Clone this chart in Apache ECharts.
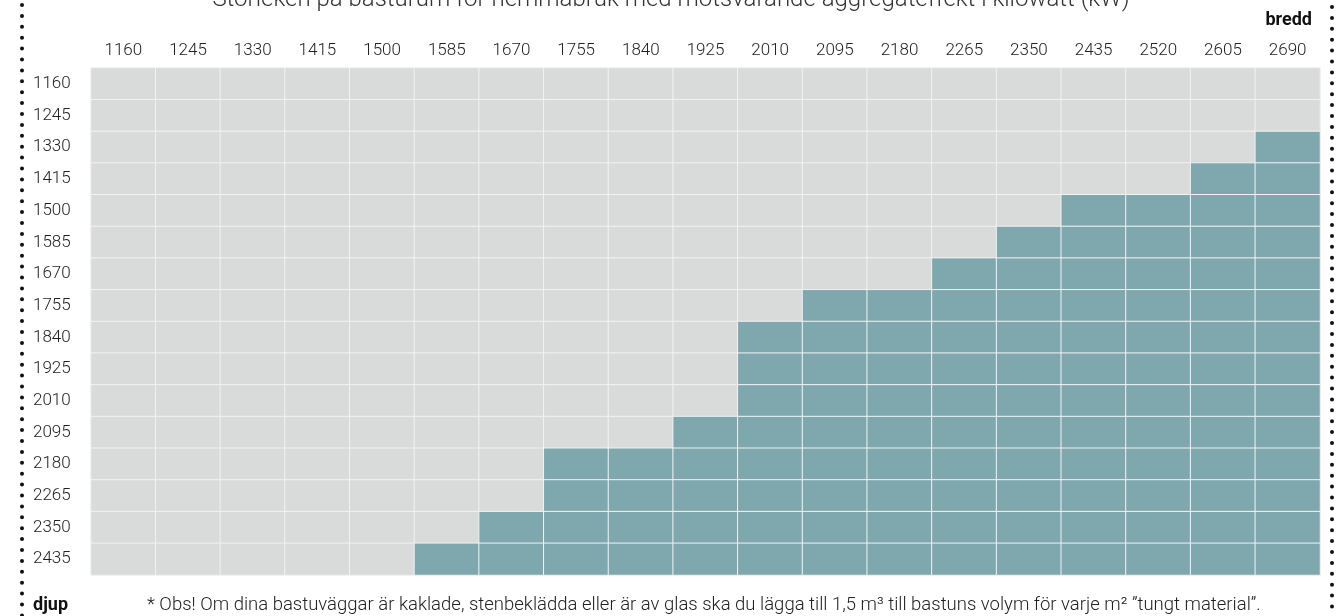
<!DOCTYPE html>
<html>
<head>
<meta charset="utf-8">
<script src="https://cdn.jsdelivr.net/npm/echarts@6/dist/echarts.min.js"></script>
<style>
  html, body { margin: 0; padding: 0; background: #fff; }
  #chart { width: 1342px; height: 616px; }
</style>
</head>
<body>
<div id="chart"></div>
<script>
// bredd (columns) and djup (rows), in mm
const bredd = ['1160', '1245', '1330', '1415', '1500', '1585', '1670', '1755', '1840', '1925',
  '2010', '2095', '2180', '2265', '2350', '2435', '2520', '2605', '2690']
const djup = ['1160', '1245', '1330', '1415', '1500', '1585', '1670', '1755', '1840', '1925',
  '2010', '2095', '2180', '2265', '2350', '2435']
// first bredd that is coloured on each djup row (null = none on that row)
const tealFrom = [null, null, 2690, 2605, 2435, 2350, 2265, 2095, 2010, 2010,
  2010, 1925, 1755, 1755, 1670, 1585]

const cells = []
djup.forEach(function(d, i) {
  bredd.forEach(function(b, j) {
    const on = tealFrom[i] !== null && Number(b) >= tealFrom[i] ? 1 : 0
    cells.push([j, i, on])
  })
})

const font = 'Roboto'
const myChart = echarts.init(document.getElementById('chart'))
const dots = { stroke: '#111', lineWidth: 4, lineDash: [0, 10.9], lineCap: 'round' }

const option = {
  animation: false,
  title: {
    text: 'Storleken på basturum för hemmabruk med motsvarande aggregateffekt i kilowatt (kW)',
    left: 'center',
    top: -17,
    textStyle: { fontFamily: font, fontSize: 24, fontWeight: 300, color: '#333' }
  },
  grid: { left: 91, right: 22, top: 68, bottom: 41 },
  xAxis: {
    type: 'category',
    position: 'top',
    data: bredd,
    axisLine: { show: false },
    axisTick: { show: false },
    splitArea: { show: false },
    axisLabel: { margin: 9, fontFamily: font, fontSize: 17, fontWeight: 300, color: '#222' }
  },
  yAxis: {
    type: 'category',
    inverse: true,
    data: djup,
    axisLine: { show: false },
    axisTick: { show: false },
    axisLabel: { margin: 58, align: 'left', fontFamily: font, fontSize: 17, fontWeight: 300, color: '#222' }
  },
  visualMap: {
    show: false,
    type: 'piecewise',
    dimension: 2,
    pieces: [
      { value: 0, color: '#d9dada' },
      { value: 1, color: '#7ea8ae' }
    ]
  },
  series: [{
    type: 'heatmap',
    data: cells,
    itemStyle: { borderColor: '#f2f2f2', borderWidth: 1 },
    emphasis: { disabled: true }
  }],
  graphic: [
    { type: 'line', shape: { x1: 22, y1: 5, x2: 22, y2: 616 }, style: dots, silent: true },
    { type: 'line', shape: { x1: 1332, y1: 7, x2: 1332, y2: 616 }, style: dots, silent: true },
    { type: 'text', right: 30, top: 11, style: { text: 'bredd', font: 'bold 18px Roboto', fill: '#111' } },
    { type: 'text', left: 33, top: 596, style: { text: 'djup', font: 'bold 18px Roboto', fill: '#111' } },
    {
      type: 'text',
      left: 147,
      top: 596,
      style: {
        text: '* Obs! Om dina bastuväggar är kaklade, stenbeklädda eller är av glas ska du lägga till 1,5 m³ till bastuns volym för varje m² ”tungt material”.',
        font: '300 18.5px Roboto',
        fill: '#222'
      }
    }
  ]
}
myChart.setOption(option)
</script>
</body>
</html>
